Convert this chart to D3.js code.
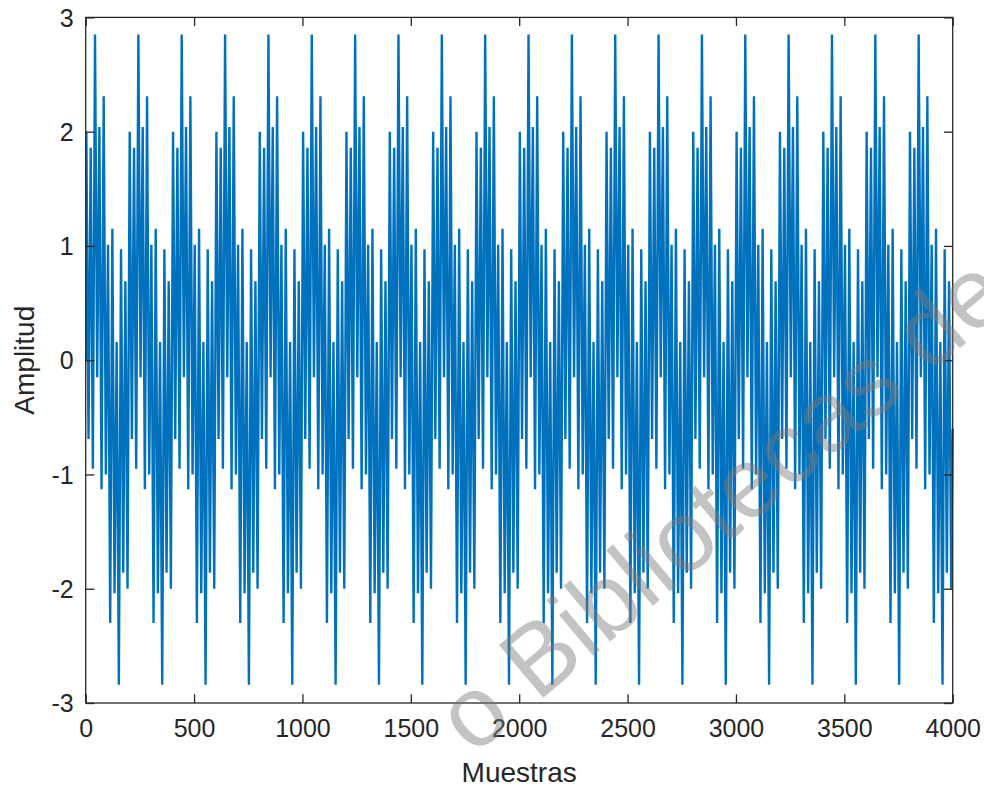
<!DOCTYPE html>
<html><head><meta charset="utf-8">
<script src="https://cdn.jsdelivr.net/npm/d3@7/dist/d3.min.js"></script>
<style>body{margin:0;background:#fff}svg{display:block}</style>
</head><body>
<svg id="chart" width="984" height="787"></svg>
<script>
// ---- data ----
const xTickValues = [0, 500, 1000, 1500, 2000, 2500, 3000, 3500, 4000];
const yTickValues = [-3, -2, -1, 0, 1, 2, 3];
const xLabel = "Muestras";
const yLabel = "Amplitud";
// the signal repeats every 200 samples; tips (local max/min) of one period
const periodLength = 200;
const periodCount = 20;
const tipOffsets = [0, 10, 20, 30, 40, 50, 60, 70, 80, 90, 100, 110, 120, 130, 140, 150, 160, 170, 180, 190];
const tipValues  = [2.0, -0.69, 1.86, -0.95, 2.85, -0.15, 2.04, -1.13, 2.31, -1.0, 1.01, -2.3, 1.15, -2.04, 0.16, -2.84, 0.97, -1.86, 0.69, -2.0];
const firstSample = [1, 0];
const lastSample = [4000, -0.6];
const watermarkText = "o Bibliotecas de";

// ---- build series ----
const series = [firstSample];
for (let p = 0; p < periodCount; p++) {
  tipOffsets.forEach((o, i) => {
    const s = p * periodLength + o + 3;
    if (s < 4000) series.push([s, tipValues[i]]);
  });
}
series.push(lastSample);

// ---- layout ----
const svg = d3.select("#chart");
const L = 85.7, R = 952.7, T = 17.4, B = 703;
const x = d3.scaleLinear().domain([0, 4000]).range([L, R]);
const y = d3.scaleLinear().domain([-3, 3]).range([B, T]);
const axisColor = "#262626";
const font = "'Liberation Sans', Arial, Helvetica, sans-serif";
const tickLen = 8.7;

svg.append("defs").append("clipPath").attr("id", "clip")
  .append("rect").attr("x", L).attr("y", T - 2).attr("width", R - L + 2).attr("height", B - T + 4);

svg.append("path")
  .datum(series)
  .attr("clip-path", "url(#clip)")
  .attr("fill", "none")
  .attr("stroke", "#0072BD")
  .attr("stroke-width", 2.4)
  .attr("stroke-linejoin", "miter")
  .attr("stroke-miterlimit", 1.5)
  .attr("d", d3.line().x(d => x(d[0])).y(d => y(d[1])));

// axes (ticks inside, on all sides)
const fmt = d => String(d);
const gB = svg.append("g").attr("transform", `translate(0,${B})`)
  .call(d3.axisBottom(x).tickValues(xTickValues).tickSizeInner(-tickLen).tickSizeOuter(0).tickPadding(16).tickFormat(fmt));
const gT = svg.append("g").attr("transform", `translate(0,${T})`)
  .call(d3.axisTop(x).tickValues(xTickValues).tickSizeInner(-tickLen).tickSizeOuter(0).tickFormat(""));
const gL = svg.append("g").attr("transform", `translate(${L},0)`)
  .call(d3.axisLeft(y).tickValues(yTickValues).tickSizeInner(-tickLen).tickSizeOuter(0).tickPadding(12).tickFormat(fmt));
const gR = svg.append("g").attr("transform", `translate(${R},0)`)
  .call(d3.axisRight(y).tickValues(yTickValues).tickSizeInner(-tickLen).tickSizeOuter(0).tickFormat(""));
[gB, gT, gL, gR].forEach(g => {
  g.select(".domain").remove();
  g.selectAll(".tick line").attr("stroke", axisColor).attr("stroke-width", 1.3);
  g.selectAll("text").attr("fill", axisColor).style("font-family", font).style("font-size", "25px");
});
gB.selectAll("text").attr("dy", "0.71em");
gL.selectAll("text").attr("dy", "0.35em");

svg.append("rect").attr("x", L).attr("y", T).attr("width", R - L).attr("height", B - T)
  .attr("fill", "none").attr("stroke", axisColor).attr("stroke-width", 1.3);

svg.append("text").attr("x", (L + R) / 2).attr("y", 782)
  .attr("text-anchor", "middle").attr("fill", axisColor)
  .style("font-family", font).style("font-size", "28px").text(xLabel);
svg.append("text").attr("transform", `translate(34,${(T + B) / 2}) rotate(-90)`)
  .attr("text-anchor", "middle").attr("fill", axisColor)
  .style("font-family", font).style("font-size", "28px").text(yLabel);

// watermark
svg.append("text").attr("transform", "translate(537,703) rotate(-40)")
  .attr("fill", "#7a7a7a").attr("fill-opacity", 0.45)
  .attr("text-anchor", "start")
  .attr("dx", "-0.834em")
  .style("font-family", font).style("font-size", "100px").text(watermarkText);
</script>
</body></html>
